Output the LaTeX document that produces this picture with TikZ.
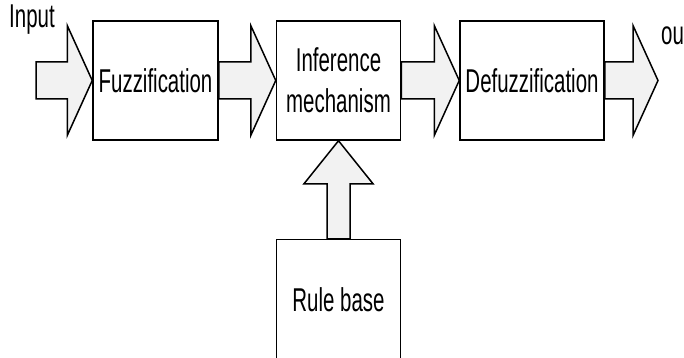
\documentclass[tikz,border=0pt]{standalone}
\usepackage{fontspec}
\setmainfont{Liberation Sans}[FakeStretch=0.62]
\usepackage{tikz}
\usetikzlibrary{calc,positioning}
\definecolor{arrowgray}{HTML}{F2F2F2}
\tikzset{>=stealth}
\tikzset{
  block/.style={draw=black, line width=1.5pt, minimum height=119pt, inner sep=0pt,
    align=center, font=\fontsize{33}{41}\selectfont},
  fatarrow/.style={draw=black, line width=1.5pt, fill=arrowgray, line join=miter},
  label text/.style={inner sep=0pt, font=\fontsize{33}{41}\selectfont}
}
% wide block arrow, left to right
\newcommand{\harrow}[2]{%
  \draw[fatarrow] let \p1=(#1), \p2=(#2) in
    (\x1,\y1+18.5) -- (\x2-25,\y1+18.5) -- (\x2-25,\y1+55) -- (\x2,\y1)
    -- (\x2-25,\y1-55) -- (\x2-25,\y1-18.5) -- (\x1,\y1-18.5) -- cycle;}
% wide block arrow, bottom to top
\newcommand{\varrow}[2]{%
  \draw[fatarrow] let \p1=(#1), \p2=(#2) in
    (\x1-11.5,\y1) -- (\x1-11.5,\y2-43) -- (\x1-34.5,\y2-43) -- (\x1,\y2)
    -- (\x1+34.5,\y2-43) -- (\x1+11.5,\y2-43) -- (\x1+11.5,\y1) -- cycle;}

\begin{document}
\begin{tikzpicture}[x=1pt, y=1pt]
\useasboundingbox (0,0) rectangle (684,-358);

\node[block, minimum width=125pt] (fuzz) at (155.5,-80.5) {Fuzzification};
\node[block, minimum width=124pt, right=57pt of fuzz] (infer) {Inference\\mechanism};
\node[block, minimum width=144pt, right=58pt of infer] (defuzz) {Defuzzification};
\node[block, minimum width=124pt, minimum height=121pt, below=98pt of infer] (rules) {Rule base};

\coordinate (in) at (36,-80.5);
\coordinate (out) at (658,-80.5);
\node[label text, anchor=base west] (inlabel) at (9,-28) {Input};
\node[label text, anchor=base west] (outlabel) at (661,-45) {ou};

\harrow{in}{fuzz.west}
\harrow{fuzz.east}{infer.west}
\harrow{infer.east}{defuzz.west}
\harrow{defuzz.east}{out}
\varrow{rules.north}{infer.south}
\end{tikzpicture}
\end{document}
